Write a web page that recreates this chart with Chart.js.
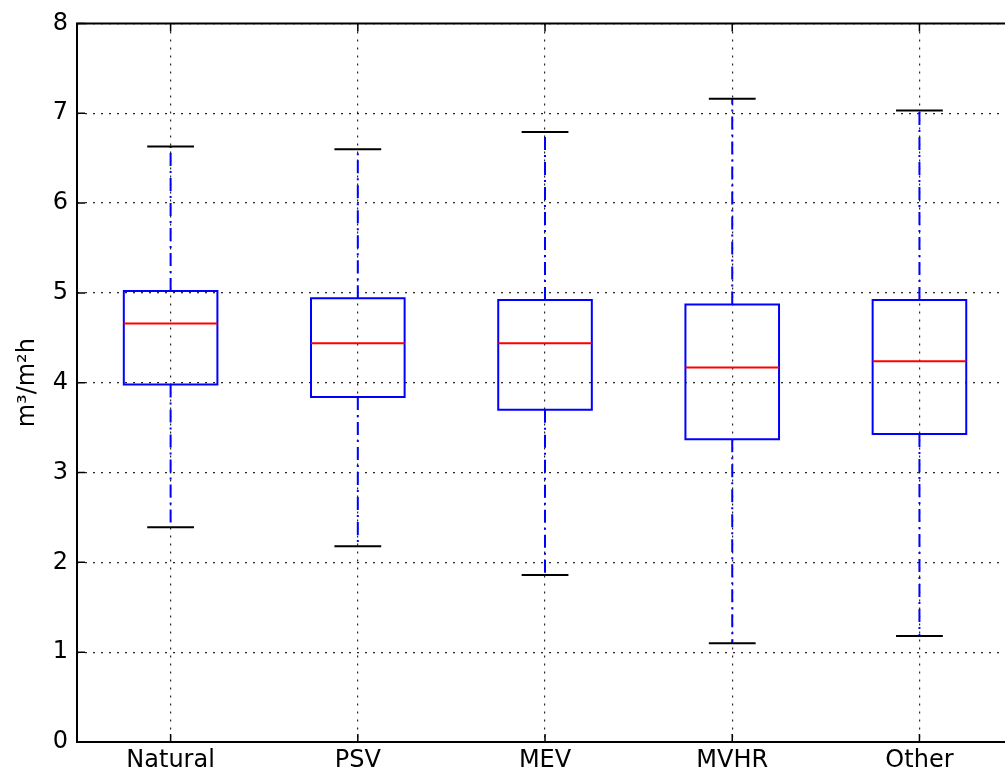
<!DOCTYPE html>
<html>
<head>
<meta charset="utf-8">
<title>Air permeability by ventilation type</title>
<script src="https://cdn.jsdelivr.net/npm/chart.js@4.4.0/dist/chart.umd.min.js"></script>
<style>
  html, body { margin: 0; padding: 0; background: #fff; }
  #wrap { width: 1005px; height: 774px; position: relative; }
</style>
</head>
<body>
<div id="wrap"><canvas id="boxChart"></canvas></div>
<script>
// box plot stats per ventilation type (m3/m2h)
const categories = ['Natural', 'PSV', 'MEV', 'MVHR', 'Other'];
const whiskerLow = [2.39, 2.18, 1.86, 1.10, 1.18];
const quartile1 = [3.98, 3.84, 3.70, 3.37, 3.43];
const medians = [4.66, 4.44, 4.44, 4.17, 4.24];
const quartile3 = [5.02, 4.94, 4.92, 4.87, 4.92];
const whiskerHigh = [6.63, 6.60, 6.79, 7.16, 7.03];
const yTicks = [0, 1, 2, 3, 4, 5, 6, 7, 8];

const BOX_HALF = 0.25;
const CAP_HALF = 0.125;
const GAP = { x: null, y: null };

// build segment lists (null points split the line into pieces)
const boxPts = [], whiskerPts = [], capPts = [], medianPts = [];
categories.forEach((c, i) => {
  const x = i + 1;
  boxPts.push(
    { x: x - BOX_HALF, y: quartile1[i] }, { x: x + BOX_HALF, y: quartile1[i] },
    { x: x + BOX_HALF, y: quartile3[i] }, { x: x - BOX_HALF, y: quartile3[i] },
    { x: x - BOX_HALF, y: quartile1[i] }, GAP
  );
  whiskerPts.push(
    { x: x, y: quartile1[i] }, { x: x, y: whiskerLow[i] }, GAP,
    { x: x, y: quartile3[i] }, { x: x, y: whiskerHigh[i] }, GAP
  );
  capPts.push(
    { x: x - CAP_HALF, y: whiskerLow[i] }, { x: x + CAP_HALF, y: whiskerLow[i] }, GAP,
    { x: x - CAP_HALF, y: whiskerHigh[i] }, { x: x + CAP_HALF, y: whiskerHigh[i] }, GAP
  );
  medianPts.push({ x: x - BOX_HALF, y: medians[i] }, { x: x + BOX_HALF, y: medians[i] }, GAP);
});

function segSet(data, color, width, extra) {
  return Object.assign({
    data: data,
    showLine: true,
    spanGaps: false,
    borderColor: color,
    borderWidth: width,
    pointRadius: 0,
    fill: false
  }, extra || {});
}

// axes frame with inward tick marks, drawn over everything
const framePlugin = {
  id: 'frame',
  afterDraw(chart) {
    const { ctx, chartArea: a, scales } = chart;
    const tl = 8;
    ctx.save();
    ctx.strokeStyle = '#000';
    ctx.lineWidth = 1.5;
    ctx.beginPath();
    yTicks.forEach(v => {
      const py = scales.y.getPixelForValue(v);
      ctx.moveTo(a.left, py); ctx.lineTo(a.left + tl, py);
    });
    categories.forEach((c, i) => {
      const px = scales.x.getPixelForValue(i + 1);
      ctx.moveTo(px, a.bottom); ctx.lineTo(px, a.bottom - tl);
      ctx.moveTo(px, a.top); ctx.lineTo(px, a.top + tl);
    });
    ctx.stroke();
    ctx.lineWidth = 2;
    ctx.beginPath();
    ctx.moveTo(a.right, a.top);
    ctx.lineTo(a.left, a.top);
    ctx.lineTo(a.left, a.bottom);
    ctx.lineTo(a.right, a.bottom);
    ctx.stroke();
    ctx.restore();
  }
};

Chart.defaults.font.family = "'DejaVu Sans', sans-serif";
Chart.defaults.color = '#000';

new Chart(document.getElementById('boxChart'), {
  type: 'scatter',
  data: {
    datasets: [
      segSet(medianPts, '#ff0000', 2, { order: 1 }),
      segSet(capPts, '#000000', 2, { order: 2 }),
      segSet(boxPts, '#0000ff', 2, { order: 3, borderCapStyle: 'square', borderJoinStyle: 'miter' }),
      segSet(whiskerPts, '#0000ff', 2, { order: 4, borderDash: [13, 5, 2, 5] })
    ]
  },
  options: {
    responsive: true,
    maintainAspectRatio: false,
    animation: false,
    layout: { padding: { top: 22, right: 0, bottom: 0, left: 0 } },
    plugins: {
      legend: { display: false },
      tooltip: { enabled: false }
    },
    scales: {
      x: {
        type: 'linear',
        min: 0.5,
        max: 5.457,
        z: 1,
        afterBuildTicks: s => { s.ticks = categories.map((c, i) => ({ value: i + 1 })); },
        afterFit: s => { s.height = 32; },
        ticks: {
          padding: 4,
          font: { size: 24 },
          color: '#000',
          callback: v => categories[v - 1]
        },
        grid: { color: 'rgba(0,0,0,0.85)', lineWidth: 1.2, drawTicks: false },
        border: { display: false, dash: [2, 6] }
      },
      y: {
        min: 0,
        max: 8,
        z: 1,
        afterBuildTicks: s => { s.ticks = yTicks.map(v => ({ value: v })); },
        afterFit: s => { s.width = 77; },
        ticks: { padding: 9, font: { size: 24 }, color: '#000' },
        grid: { color: 'rgba(0,0,0,0.85)', lineWidth: 1.2, drawTicks: false },
        border: { display: false, dash: [2, 6] },
        title: {
          display: true,
          text: 'm³/m²h',
          font: { size: 24 },
          color: '#000',
          padding: { top: 13, bottom: 0 }
        }
      }
    }
  },
  plugins: [framePlugin]
});
</script>
</body>
</html>
